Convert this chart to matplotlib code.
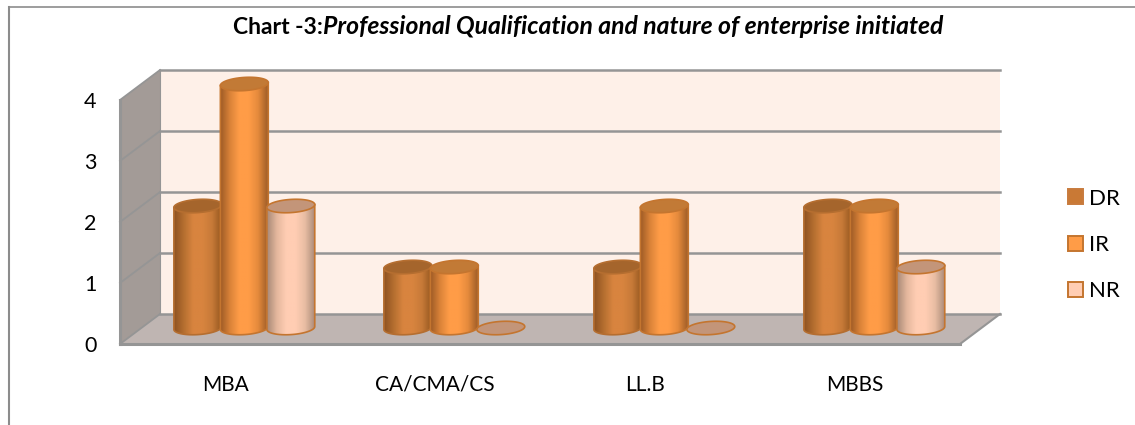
# -*- coding: utf-8 -*-
import numpy as np
import matplotlib
matplotlib.use("Agg")
from matplotlib import pyplot as plt
from matplotlib.colors import LinearSegmentedColormap
from matplotlib.lines import Line2D
from matplotlib.patches import Patch, Polygon

plt.rcParams['font.family'] = ['Lato', 'DejaVu Sans']

# data
categories = ['MBA', 'CA/CMA/CS', 'LL.B', 'MBBS']
dr = [2, 1, 1, 2]
ir = [4, 1, 2, 2]
nr = [2, 0, 0, 1]
y_ticks = [0, 1, 2, 3, 4]

W, H = 1135, 425
fig = plt.figure(figsize=(W / 100, H / 100), dpi=100)
# the axes is the front plane of the fake 3d box
ax = fig.add_axes([120 / W, 1 - 344 / H, 840 / W, 244 / H])

# depth of box in data units
dx = 40 / 210
dy = 30 / 61

wall_col = '#FEF0E8'
side_col = '#A39B97'
floor_col = '#BFB5B2'
grid_col = '#959595'

# walls
ax.add_patch(Polygon([(-0.5 + dx, dy), (3.5 + dx, dy), (3.5 + dx, 4 + dy), (-0.5 + dx, 4 + dy)],
                     fc=wall_col, ec='none', zorder=1, clip_on=False))
ax.add_patch(Polygon([(-0.5, 0), (-0.5 + dx, dy), (-0.5 + dx, 4 + dy), (-0.5, 4)],
                     fc=side_col, ec='none', zorder=1, clip_on=False))
ax.add_patch(Polygon([(-0.5, 0), (3.5, 0), (3.5 + dx, dy), (-0.5 + dx, dy)],
                     fc=floor_col, ec='none', zorder=1, clip_on=False))

# gridlines on back and side wall
for v in y_ticks:
    ax.plot([-0.5 + dx, 3.5 + dx], [v + dy, v + dy], color=grid_col, lw=1.8, zorder=2, clip_on=False)
    ax.plot([-0.5, -0.5 + dx], [v, v + dy], color=grid_col, lw=1.3, zorder=2, clip_on=False)
ax.plot([-0.5, 3.5], [0, 0], color=grid_col, lw=2.2, zorder=2, clip_on=False)
ax.plot([3.5, 3.5 + dx], [0, dy], color=grid_col, lw=1.5, zorder=2, clip_on=False)
ax.plot([-0.5, -0.5], [0, 4], color=grid_col, lw=2.2, zorder=2, clip_on=False)
ax.plot([-0.5 + dx, -0.5 + dx], [dy, 4 + dy], color=grid_col, lw=0.8, zorder=2, clip_on=False)

# cylinders
bar_pitch = 46.5 / 210
a = 0.114
b = 0.108
tilt = 0.024
base_x = 0.092 - bar_pitch
base_y = 0.262
t = np.linspace(0, 2 * np.pi, 121)


def ellipse_pts(cx, cy):
    return np.column_stack([cx + a * np.cos(t), cy + b * np.sin(t) + tilt * np.cos(t)])


def cylinder(cx, val, cols, top_col, edge_col, z):
    cy0 = base_y
    cy1 = base_y + val
    if val > 0:
        low = np.linspace(np.pi, 2 * np.pi, 61)
        lo = np.column_stack([cx + a * np.cos(low), cy0 + b * np.sin(low) + tilt * np.cos(low)])
        outline = np.vstack([[cx - a, cy1 - tilt], lo, [cx + a, cy1 + tilt]])
        body = Polygon(outline, fc='none', ec=edge_col, lw=1.2, zorder=z + 0.1, clip_on=False)
        ax.add_patch(body)
        cmap = LinearSegmentedColormap.from_list('c', cols)
        im = ax.imshow(np.linspace(0, 1, 64).reshape(1, -1), cmap=cmap, aspect='auto',
                       extent=[cx - a, cx + a, cy0 - b - 0.05, cy1 + b], zorder=z, interpolation='bilinear')
        im.set_clip_path(body)
        im.set_clip_box(fig.bbox)
    ax.add_patch(Polygon(ellipse_pts(cx, cy1), fc=top_col, ec=edge_col, lw=1.2, zorder=z + 0.2, clip_on=False))


dr_cols = ['#8F5322', '#B56F30', '#D8843F', '#D8843F', '#C77A38', '#95571F']
ir_cols = ['#9C5A25', '#D98238', '#FF9C47', '#FF9C47', '#E58A3C', '#A05E28']
nr_cols = ['#A98A78', '#E4B79D', '#FFCDB3', '#FFCDB3', '#E8BDA3', '#AC8C7A']
dr_top, ir_top, nr_top = '#A5652C', '#C27A36', '#C39579'
edge = '#C4752F'

for i in range(len(categories)):
    c = i + base_x
    cylinder(c, dr[i], dr_cols, dr_top, '#B56E30', 5 + i)
    cylinder(c + bar_pitch, ir[i], ir_cols, ir_top, edge, 5.3 + i)
    cylinder(c + 2 * bar_pitch, nr[i], nr_cols, nr_top, edge, 5.6 + i)

ax.set_xlim(-0.5, 3.5)
ax.set_ylim(0, 4)
ax.set_xticks(range(len(categories)))
ax.set_xticklabels(categories, fontsize=15)
ax.set_yticks(y_ticks)
ax.tick_params(axis='x', length=0, pad=22)
ax.tick_params(axis='y', length=0, pad=17, labelsize=15.5)
for lab in ax.get_yticklabels():
    lab.set_verticalalignment('center_baseline')
for s in ax.spines.values():
    s.set_visible(False)
ax.patch.set_visible(False)

# legend
handles = [Patch(fc='#C97935', ec='#C87B3D', lw=1.4, label='DR'),
           Patch(fc='#FF9C47', ec='#C4752F', lw=1.4, label='IR'),
           Patch(fc='#FFCDB3', ec='#C4752F', lw=1.4, label='NR')]
fig.legend(handles=handles, loc='center left', bbox_to_anchor=(1048 / W, 1 - 245 / H),
           frameon=False, fontsize=16, handlelength=0.68, handleheight=0.68,
           handletextpad=0.27, labelspacing=1.19)

# title, two parts
t1 = fig.text(233 / W, 1 - 34.5 / H, 'Chart -3:', fontsize=16.5, fontweight='bold', ha='left', va='baseline')
ax.annotate('Professional Qualification and nature of enterprise initiated', xy=(1, 0), xycoords=t1,
            fontsize=17.8, fontweight='bold', fontstyle='italic', ha='left', va='bottom',
            annotation_clip=False)

# outer frame, no right or bottom side visible
fig.add_artist(Line2D([9 / W, 9 / W], [0, 1 - 7 / H], color='#8C8C8C', lw=1.5))
fig.add_artist(Line2D([9 / W, 1], [1 - 7 / H, 1 - 7 / H], color='#8C8C8C', lw=1.2))

fig.savefig('out.png', dpi=100)
